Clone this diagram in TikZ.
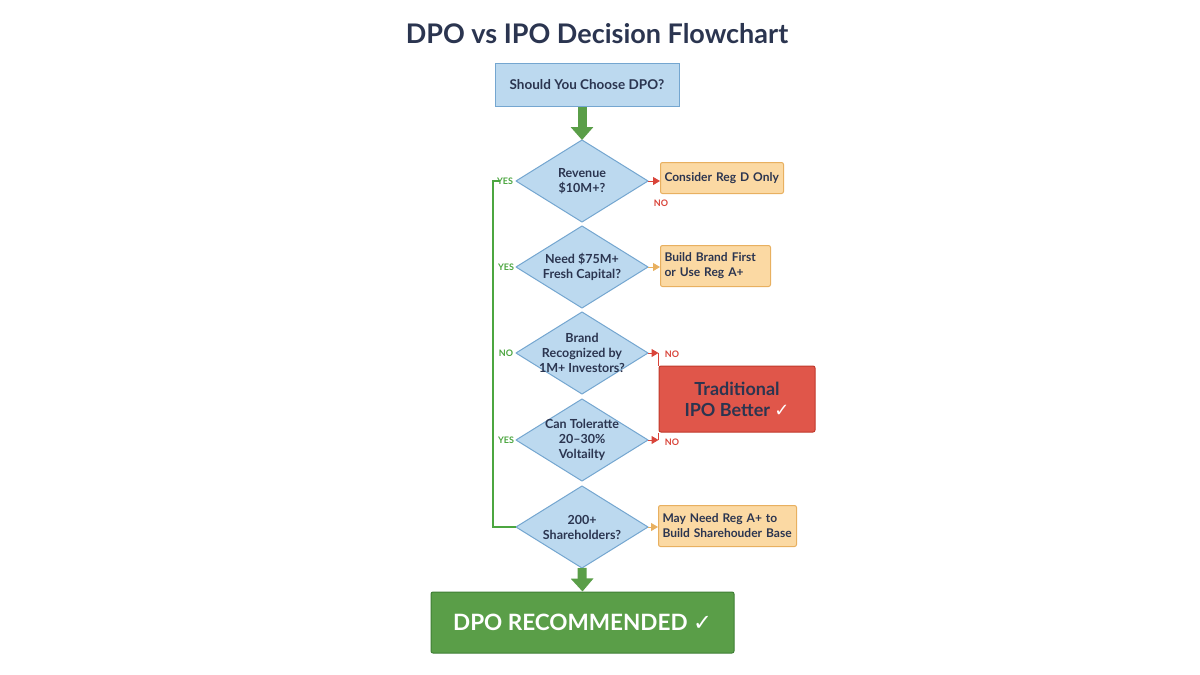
\documentclass[tikz,border=0pt]{standalone}
\usepackage{fontspec}
\setmainfont{Lato}
\newfontfamily\sym{DejaVu Sans}
\usetikzlibrary{arrows.meta}
\definecolor{navy}{HTML}{2B3550}
\definecolor{bfill}{HTML}{BCD9EF}
\definecolor{bline}{HTML}{74A6D0}
\definecolor{ofill}{HTML}{FBD9A3}
\definecolor{oline}{HTML}{E8B060}
\definecolor{rfill}{HTML}{E0564A}
\definecolor{rline}{HTML}{C0392B}
\definecolor{gfill}{HTML}{5A9E48}
\definecolor{gline}{HTML}{3F7F35}
\definecolor{ytxt}{HTML}{4CA640}
\definecolor{ntxt}{HTML}{D9443A}
\newcommand{\mydia}[3]{%
  \draw[draw=bline,fill=bfill,line width=1pt,line join=round] (582,#2-41) coordinate (#1N) -- (648,#2) coordinate (#1E) -- (582,#2+41) coordinate (#1S) -- (516,#2) coordinate (#1W) -- cycle;
  \node[diatext] (#1) at (582,#2) {#3};}
\begin{document}
\begin{tikzpicture}[x=1pt,y=-1pt,
  diatext/.style={align=center,font=\fontsize{12.5}{15}\selectfont\bfseries,text=navy,inner sep=0pt},
  obox/.style={draw=oline,fill=ofill,line width=1pt,rounded corners=2pt,anchor=north west,align=left,font=\fontsize{12}{15}\selectfont\bfseries,text=navy,inner sep=0pt},
  thick arrow/.style={draw=gfill,line width=9pt,-{Triangle[width=22pt,length=13pt]}},
  sarrow/.style={line width=1pt,-{Triangle[width=8pt,length=7pt]}},
  lab/.style={font=\fontsize{9}{10}\selectfont\bfseries}]
\useasboundingbox (0,0) rectangle (1200,675);
\fill[white] (0,0) rectangle (1200,675);
\node[font=\fontsize{27}{30}\selectfont\bfseries,text=navy] (title) at (597,34) {DPO vs IPO Decision Flowchart};
\node[draw=bline,fill=bfill,line width=1pt,minimum width=184pt,minimum height=43pt,font=\fontsize{13.5}{15}\selectfont\bfseries,text=navy] (start) at (587,85) {Should You Choose DPO?};
\mydia{d1}{181}{Revenue\\\$10M+?}
\mydia{d2}{267}{Need \$75M+\\Fresh Capital?}
\mydia{d3}{353}{Brand\\Recognized by\\1M+ Investors?}
\mydia{d4}{440}{Can Toleratte\\20--30\%\\Voltailty}
\mydia{d5}{527}{200+\\Shareholders?}
\node[obox,minimum width=123pt,minimum height=31pt,text width=115pt,inner xsep=4pt] (o1) at (660,162) {Consider Reg D Only};
\node[obox,minimum width=110pt,minimum height=41pt,text width=102pt,inner xsep=4pt] (o2) at (660,245) {Build Brand First\\or Use Reg A+};
\node[obox,minimum width=138pt,minimum height=41pt,text width=130pt,inner xsep=4pt] (o5) at (658,505) {May Need Reg A+ to\\Build Sharehouder Base};
\node[draw=rline,fill=rfill,line width=1pt,rounded corners=2pt,minimum width=156pt,minimum height=66pt,align=center,font=\fontsize{18}{21}\selectfont\bfseries,text=navy] (ipo) at (737,399) {Traditional\\IPO Better {\color{white}\sym ✓}};
\node[draw=gline,fill=gfill,line width=1pt,rounded corners=2pt,minimum width=303pt,minimum height=61pt,font=\fontsize{22.5}{24}\selectfont\bfseries,text=white] (dpo) at (582.5,622.5) {DPO RECOMMENDED {\sym ✓}};
\draw[thick arrow] (start.south -| d1N) -- (d1N);
\draw[thick arrow] (d5S) -- (dpo.north);
\draw[sarrow,draw=ntxt,fill=ntxt] (d1E) -- (o1.west |- d1E);
\draw[sarrow,draw=oline,fill=oline] (d2E) -- (o2.west |- d2E);
\draw[sarrow,draw=oline,fill=oline] (d5E) -- (o5.west |- d5E);
\draw[sarrow,draw=ntxt,fill=ntxt] (d3E) -- (ipo.west |- d3E);
\draw[sarrow,draw=ntxt,fill=ntxt] (d4E) -- (ipo.west |- d4E);
\draw[ntxt,line width=1pt] (ipo.west |- d3E) -- (ipo.north west);
\draw[ntxt,line width=1pt] (ipo.west |- d4E) -- (ipo.south west);
\draw[ytxt,line width=1.5pt] (d1W) ++(-16,0) coordinate (yy) -- ++(-7,0) |- (d5W);
\node[lab,text=ytxt] at (505,181) {YES};
\node[lab,text=ytxt] at (506,267) {YES};
\node[lab,text=ytxt] at (506,353) {NO};
\node[lab,text=ytxt] at (506,440) {YES};
\node[lab,text=ntxt] at (661,203) {NO};
\node[lab,text=ntxt] at (672,354) {NO};
\node[lab,text=ntxt] at (672,442) {NO};
\end{tikzpicture}
\end{document}
